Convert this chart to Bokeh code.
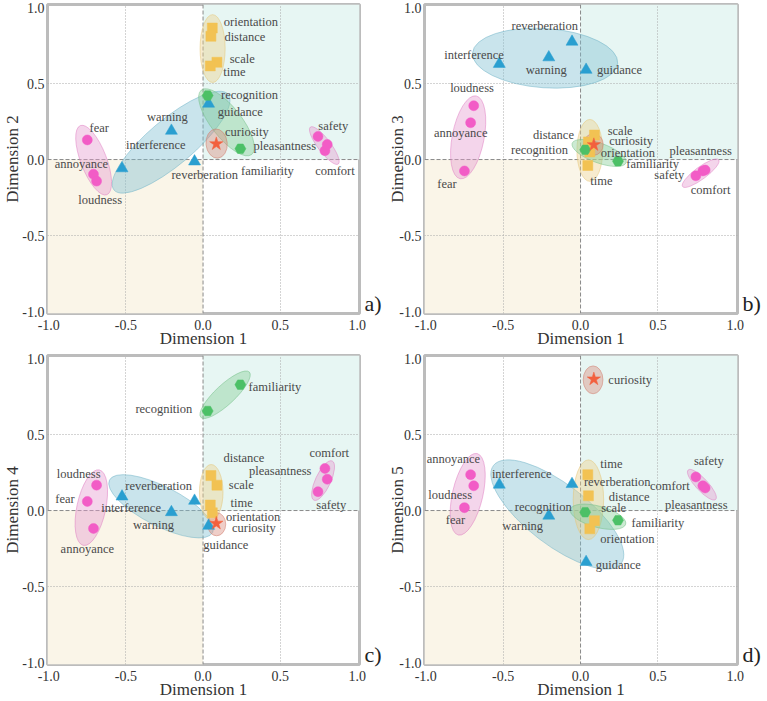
import math
from bokeh.plotting import figure
from bokeh.layouts import column, row
from bokeh.models import (BoxAnnotation, Span, NumeralTickFormatter, FixedTicker,
                          ColumnDataSource, LinearAxis)
from bokeh.core.properties import value
from bokeh.embed import file_html
from bokeh.resources import INLINE

FONT = "'Liberation Serif', serif"

# ---------------- data ----------------
terms = ["fear", "annoyance", "loudness", "safety", "comfort", "pleasantness",
         "warning", "interference", "reverberation", "guidance",
         "orientation", "distance", "scale", "time",
         "recognition", "familiarity", "curiosity"]
groups = ["pink", "pink", "pink", "pink", "pink", "pink",
          "blue", "blue", "blue", "blue",
          "yellow", "yellow", "yellow", "yellow",
          "green", "green", "red"]

dim1 = [-0.75, -0.71, -0.69, 0.745, 0.79, 0.805, -0.205, -0.525, -0.055, 0.036,
        0.06, 0.051, 0.09, 0.047, 0.03, 0.242, 0.086]
dim2 = [0.129, -0.097, -0.142, 0.152, 0.058, 0.099, 0.189, -0.058, -0.013, 0.367,
        0.865, 0.811, 0.64, 0.616, 0.421, 0.071, 0.103]
dim3 = [-0.075, 0.242, 0.354, -0.107, -0.075, -0.069, 0.672, 0.629, 0.775, 0.59,
        0.05, 0.116, 0.161, -0.039, 0.064, -0.011, 0.097]
dim4 = [0.06, -0.118, 0.167, 0.124, 0.277, 0.206, -0.011, 0.092, 0.064, -0.101,
        -0.015, 0.23, 0.167, 0.036, 0.655, 0.828, -0.084]
dim5 = [0.019, 0.236, 0.163, 0.221, 0.163, 0.148, -0.034, 0.17, 0.174, -0.339,
        -0.12, 0.097, -0.067, 0.236, -0.011, -0.064, 0.865]

ticks = [-1.0, -0.5, 0.0, 0.5, 1.0]

# ---------------- layout (label placement, ellipses) ----------------
label_pos = {
    "a": [(-0.673, 0.206), (-0.788, -0.032), (-0.667, -0.264), (0.844, 0.221), (0.855, -0.073),
          (0.530, 0.090), (-0.231, 0.281), (-0.306, 0.094), (0.011, -0.101), (0.241, 0.313),
          (0.310, 0.908), (0.271, 0.807), (0.254, 0.663), (0.203, 0.575), (0.301, 0.425),
          (0.417, -0.077), (0.284, 0.182)],
    "b": [(-0.863, -0.161), (-0.774, 0.174), (-0.701, 0.468), (0.573, -0.101), (0.840, -0.202),
          (0.776, 0.056), (-0.222, 0.586), (-0.688, 0.689), (-0.231, 0.876), (0.252, 0.592),
          (0.306, 0.045), (-0.175, 0.161), (0.256, 0.189), (0.135, -0.144), (-0.265, 0.064),
          (0.466, -0.028), (0.327, 0.120)],
    "c": [(-0.895, 0.077), (-0.75, -0.255), (-0.806, 0.242), (0.831, 0.036), (0.818, 0.376),
          (0.5, 0.260), (-0.321, -0.097), (-0.466, 0.019), (-0.288, 0.163), (0.147, -0.225),
          (0.325, -0.041), (0.265, 0.343), (0.248, 0.167), (0.25, 0.047), (-0.254, 0.667),
          (0.466, 0.813), (0.329, -0.114)],
    "d": [(-0.808, -0.060), (-0.821, 0.339), (-0.842, 0.099), (0.829, 0.324), (0.577, 0.161),
          (0.748, 0.039), (-0.374, -0.105), (-0.380, 0.242), (0.237, 0.189), (0.244, -0.358),
          (0.303, -0.187), (0.314, 0.088), (0.214, 0.019), (0.199, 0.307), (-0.241, 0.026),
          (0.5, -0.084), (0.321, 0.861)],
}

# (group, cx, cy, width, height, angle_deg)
ellipses = {
    "a": [("pink", -0.709, -0.004, 0.48, 0.17, 111), ("pink", 0.786, 0.092, 0.30, 0.085, 127),
          ("blue", -0.207, 0.114, 0.965, 0.30, 40), ("yellow", 0.062, 0.73, 0.44, 0.165, 90),
          ("green", 0.152, 0.245, 0.53, 0.20, 128), ("red", 0.088, 0.105, 0.19, 0.14, 95)],
    "b": [("pink", -0.726, 0.146, 0.545, 0.21, 79), ("pink", 0.776, -0.09, 0.29, 0.08, 36.5),
          ("blue", -0.229, 0.667, 0.94, 0.39, -4), ("yellow", 0.06, 0.06, 0.40, 0.17, 90),
          ("green", 0.12, 0.043, 0.37, 0.13, -20), ("red", 0.083, 0.099, 0.14, 0.13, 90)],
    "c": [("pink", -0.724, 0.019, 0.50, 0.19, 78), ("pink", 0.778, 0.197, 0.28, 0.10, 65),
          ("blue", -0.272, 0.028, 0.75, 0.26, -27), ("yellow", 0.053, 0.12, 0.36, 0.155, 90),
          ("green", 0.143, 0.762, 0.43, 0.13, 43), ("red", 0.088, -0.09, 0.15, 0.12, 90)],
    "d": [("pink", -0.729, 0.107, 0.54, 0.2, 77), ("pink", 0.784, 0.17, 0.26, 0.08, -47),
          ("blue", -0.15, -0.026, 1.04, 0.40, -37.5), ("yellow", 0.051, 0.071, 0.515, 0.2, 90),
          ("green", 0.113, -0.041, 0.37, 0.14, -15), ("red", 0.081, 0.86, 0.18, 0.13, 90)],
}

marker_style = {
    "pink": ("circle", 10, "#f25cc6"),
    "blue": ("triangle", 12, "#2a9fd0"),
    "yellow": ("square", 10, "#f2c253"),
    "green": ("hex", 11, "#4cc066"),
    "red": ("star", 14, "#f2603e"),
}
ellipse_style = {
    "pink": ("#e59ad0", "#e07cc2"),
    "blue": ("#7fbfd2", "#6fb3c8"),
    "yellow": ("#ecd08a", "#e6c676"),
    "green": ("#86cc96", "#72c086"),
    "red": ("#d98a7c", "#cf7a6a"),
}


def make_panel(ydata, ylabel, tag, key, width, height, bl, br, bt, bb, ylab_standoff):
    p = figure(width=width, height=height, x_range=(-1.008, 1.014), y_range=(-1.013, 1.02),
               output_backend="svg", toolbar_location=None,
               min_border_left=bl, min_border_right=br, min_border_top=bt, min_border_bottom=bb,
               background_fill_color="white", border_fill_color="white")
    # quadrant shading
    p.add_layout(BoxAnnotation(left=0, bottom=0, fill_color="#e7f6f3", fill_alpha=1.0,
                               line_color=None, level="image"))
    p.add_layout(BoxAnnotation(right=0, top=0, fill_color="#faf5e8", fill_alpha=1.0,
                               line_color=None, level="image"))
    # grid
    for g in (p.xgrid, p.ygrid):
        g.ticker = FixedTicker(ticks=[-0.5, 0.5])
        g.grid_line_color = "#a8a8a8"
        g.grid_line_dash = "1 2"
        g.grid_line_width = 1
    p.add_layout(Span(location=0, dimension="height", line_color="#8a8a8a",
                      line_dash="4 2", line_width=1, level="underlay"))
    p.add_layout(Span(location=0, dimension="width", line_color="#8a8a8a",
                      line_dash="4 2", line_width=1, level="underlay"))
    # axes
    for ax in (p.xaxis, p.yaxis):
        ax.ticker = FixedTicker(ticks=ticks)
        ax.formatter = NumeralTickFormatter(format="0.0")
        ax.axis_line_color = None
        ax.major_tick_line_color = None
        ax.minor_tick_line_color = None
        ax.major_tick_out = 0
        ax.major_tick_in = 0
        ax.major_label_text_font = FONT
        ax.major_label_text_font_size = "14px"
        ax.major_label_text_color = "#333333"
        ax.axis_label_text_font = FONT
        ax.axis_label_text_font_size = "17px"
        ax.axis_label_text_font_style = "normal"
        ax.axis_label_text_color = "#333333"
    p.xaxis.major_label_standoff = 6
    p.xaxis.axis_label_standoff = -4
    p.yaxis.major_label_standoff = 3
    p.yaxis.axis_label_standoff = ylab_standoff
    p.xaxis.axis_label = "Dimension 1"
    p.yaxis.axis_label = ylabel
    p.outline_line_color = "#bcbcbc"
    p.outline_line_width = 3

    # panel tag as a right-hand axis label
    tag_axis = LinearAxis(ticker=FixedTicker(ticks=[-0.95]), major_label_overrides={-0.95: tag},
                          axis_line_color=None, major_tick_line_color=None,
                          minor_tick_line_color=None, major_tick_out=0, major_tick_in=0,
                          major_label_standoff=5, major_label_text_font=FONT,
                          major_label_text_font_size="22px", major_label_text_color="#222222")
    p.add_layout(tag_axis, "right")

    # ellipses
    for grp, cx, cy, w, h, ang in ellipses[key]:
        fc, lc = ellipse_style[grp]
        p.ellipse(x=cx, y=cy, width=w, height=h, angle=math.radians(ang),
                  fill_color=fc, fill_alpha=0.42, line_color=lc, line_alpha=0.5, line_width=1)

    # points
    for grp, (mk, sz, col) in marker_style.items():
        idx = [i for i, g in enumerate(groups) if g == grp]
        src = ColumnDataSource(dict(x=[dim1[i] for i in idx], y=[ydata[i] for i in idx]))
        p.scatter("x", "y", source=src, marker=mk, size=sz, fill_color=col,
                  line_color=col, line_width=0.5)

    # labels
    lp = label_pos[key]
    src = ColumnDataSource(dict(x=[a for a, b in lp], y=[b for a, b in lp], t=terms))
    p.text("x", "y", text="t", source=src, text_align="center", text_baseline="middle",
           text_font=value(FONT), text_font_size="12.5px", text_color="#4a4a4a")
    return p


pa = make_panel(dim2, "Dimension 2", "a)", "a", 384, 350, 44, 25, 4, 33, -3)
pb = make_panel(dim3, "Dimension 3", "b)", "b", 383, 350, 40, 30, 4, 33, -11)
pc = make_panel(dim4, "Dimension 4", "c)", "c", 384, 351, 44, 25, 5, 34, -3)
pd = make_panel(dim5, "Dimension 5", "d)", "d", 383, 351, 40, 30, 5, 34, -11)

lay = column(row(pa, pb, spacing=0), row(pc, pd, spacing=0), spacing=0)

with open("out.html", "w") as f:
    f.write(file_html(lay, INLINE))
